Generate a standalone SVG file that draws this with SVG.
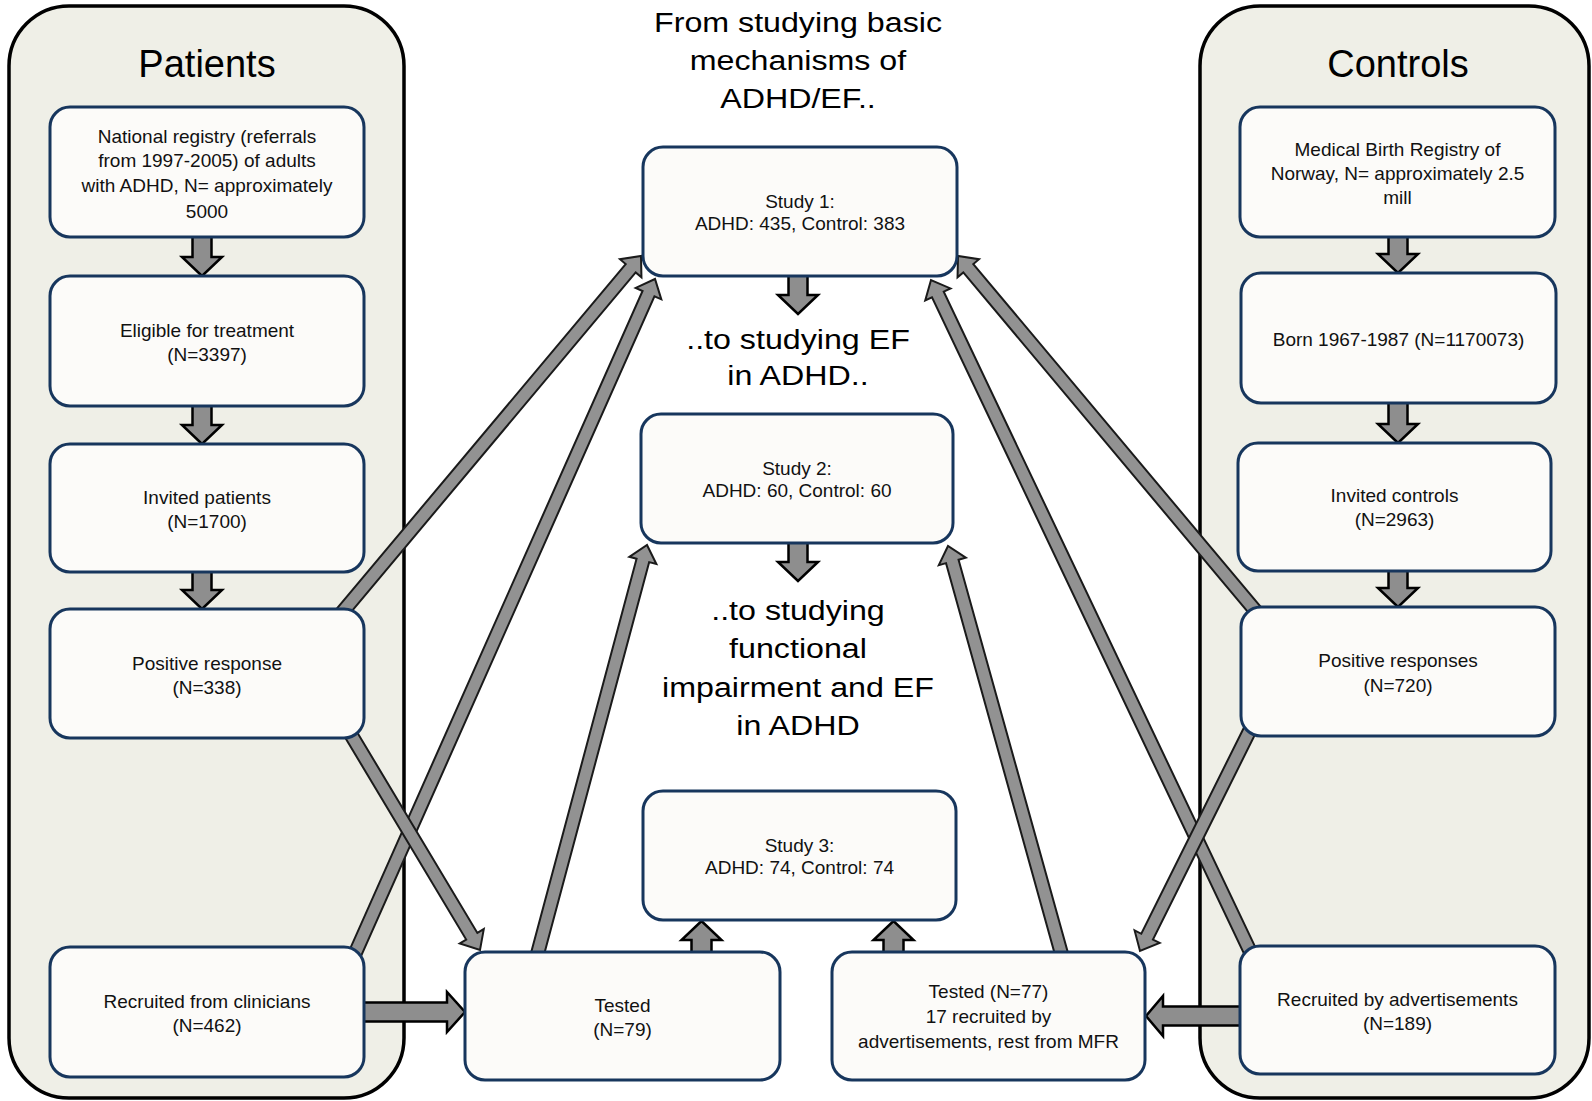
<svg xmlns="http://www.w3.org/2000/svg" width="1592" height="1101" viewBox="0 0 1592 1101">
  <style>
    .panel { fill: #efefe7; stroke: #000; stroke-width: 3.5; }
    .node { fill: #fcfbf9; stroke: #17365d; stroke-width: 3; }
    .t { font-family: "Liberation Sans", Arial, sans-serif; font-size: 19px; fill: #111; text-anchor: middle; }
    .head { font-family: "Liberation Sans", Arial, sans-serif; font-size: 38px; fill: #000; text-anchor: middle; }
    .big { font-family: "Liberation Sans", Arial, sans-serif; font-size: 28px; fill: #000; text-anchor: middle; }
    .blk { fill: #8e8e8e; stroke: #000; stroke-width: 2.5; stroke-linejoin: miter; }
    .dia { fill: #929292; stroke: #1a1a1a; stroke-width: 2; stroke-linejoin: miter; }
  </style>
  <rect width="1592" height="1101" fill="#ffffff"/>

  <g id="panel-patients">
    <rect class="panel" x="9" y="6" width="395" height="1092" rx="60" ry="60"/>
    <text class="head" x="207" y="77">Patients</text>
  </g>
  <g id="panel-controls">
    <rect class="panel" x="1200" y="6" width="389" height="1092" rx="60" ry="60"/>
    <text class="head" x="1398" y="77">Controls</text>
  </g>

  <g id="captions">
    <g transform="translate(798,0) scale(1.15,1)">
      <text class="big" x="0" y="32">From studying basic</text>
      <text class="big" x="0" y="70">mechanisms of</text>
      <text class="big" x="0" y="108">ADHD/EF..</text>
      <text class="big" x="0" y="349">..to studying EF</text>
      <text class="big" x="0" y="385">in ADHD..</text>
      <text class="big" x="0" y="620">..to studying</text>
      <text class="big" x="0" y="658">functional</text>
      <text class="big" x="0" y="697">impairment and EF</text>
      <text class="big" x="0" y="735">in ADHD</text>
    </g>
  </g>

  <g id="connectors">
    <!-- vertical block arrows, patients -->
    <path class="blk" d="M192.5,235 H211.5 V257 H222 L202,276 L182,257 H192.5 Z"/>
    <path class="blk" d="M192.5,404 H211.5 V425 H222 L202,444 L182,425 H192.5 Z"/>
    <path class="blk" d="M192.5,570 H211.5 V590 H222 L202,609 L182,590 H192.5 Z"/>
    <!-- vertical block arrows, controls -->
    <path class="blk" d="M1388.5,235 H1407.5 V254 H1418 L1398,273 L1378,254 H1388.5 Z"/>
    <path class="blk" d="M1388.5,401 H1407.5 V424 H1418 L1398,443 L1378,424 H1388.5 Z"/>
    <path class="blk" d="M1388.5,569 H1407.5 V588 H1418 L1398,607 L1378,588 H1388.5 Z"/>
    <!-- middle down arrows -->
    <path class="blk" d="M788.5,274 H807.5 V295 H818 L798,314 L778,295 H788.5 Z"/>
    <path class="blk" d="M788.5,541 H807.5 V562 H818 L798,581 L778,562 H788.5 Z"/>
    <!-- up arrows into Study 3 -->
    <path class="blk" d="M691.5,954 V940 H681.5 L701.5,921 L721.5,940 H711.5 V954 Z"/>
    <path class="blk" d="M883.5,954 V940 H873.5 L893.5,921 L913.5,940 H903.5 V954 Z"/>
    <!-- horizontal arrows -->
    <path class="blk" d="M362,1002.5 H447 V992 L465,1012 L447,1032 V1021.5 H362 Z"/>
    <path class="blk" d="M1242,1006.5 H1163 V996 L1146,1016 L1163,1036 V1025.5 H1242 Z"/>

    <!-- diagonal arrows -->
    <path class="dia" d="M344.9,619.3 L635.7,272.4 L641.45,277.26 L641,256 L619.99,259.26 L625.7,264.1 L334.9,610.9 Z"/>
    <path class="dia" d="M360.69,956.95 L654.44,296.26 L661.29,299.31 L655,279 L635.71,287.93 L642.56,290.98 L348.81,951.67 Z"/>
    <path class="dia" d="M343.31,734.48 L466.2,939.61 L459.77,943.46 L480,950 L483.79,929.08 L477.36,932.93 L354.47,727.8 Z"/>
    <path class="dia" d="M542.21,961.41 L649.14,562.14 L656.38,564.08 L647,545 L629.34,556.84 L636.58,558.78 L529.65,958.05 Z"/>
    <path class="dia" d="M1254.1,619.3 L963.3,272.4 L957.55,277.26 L958,256 L979.01,259.26 L973.3,264.1 L1264.1,610.9 Z"/>
    <path class="dia" d="M1257.3,951.44 L943.74,291.66 L950.51,288.44 L931,280 L925.23,300.46 L932,297.24 L1245.56,957.02 Z"/>
    <path class="dia" d="M1247.74,719.94 L1141.31,933.78 L1134.6,930.44 L1140,951 L1159.66,942.92 L1152.95,939.58 L1259.38,725.74 Z"/>
    <path class="dia" d="M1069.4,957.97 L958.55,559.67 L965.78,557.66 L948,546 L938.8,565.16 L946.03,563.15 L1056.88,961.45 Z"/>
  </g>

  <g id="node-national-registry">
    <rect class="node" x="50" y="107" width="314" height="130" rx="20" ry="20"/>
    <text class="t" x="207" y="143">National registry (referrals</text>
    <text class="t" x="207" y="167">from 1997-2005) of adults</text>
    <text class="t" x="207" y="192">with ADHD, N= approximately</text>
    <text class="t" x="207" y="218">5000</text>
  </g>
  <g id="node-eligible">
    <rect class="node" x="50" y="276" width="314" height="130" rx="20" ry="20"/>
    <text class="t" x="207" y="337">Eligible for treatment</text>
    <text class="t" x="207" y="361">(N=3397)</text>
  </g>
  <g id="node-invited-patients">
    <rect class="node" x="50" y="444" width="314" height="128" rx="20" ry="20"/>
    <text class="t" x="207" y="504">Invited patients</text>
    <text class="t" x="207" y="528">(N=1700)</text>
  </g>
  <g id="node-positive-response">
    <rect class="node" x="50" y="609" width="314" height="129" rx="20" ry="20"/>
    <text class="t" x="207" y="670">Positive response</text>
    <text class="t" x="207" y="694">(N=338)</text>
  </g>
  <g id="node-recruited-clinicians">
    <rect class="node" x="50" y="947" width="314" height="130" rx="20" ry="20"/>
    <text class="t" x="207" y="1008">Recruited from clinicians</text>
    <text class="t" x="207" y="1032">(N=462)</text>
  </g>

  <g id="node-study1">
    <rect class="node" x="643" y="147" width="314" height="129" rx="20" ry="20"/>
    <text class="t" x="800" y="208">Study 1:</text>
    <text class="t" x="800" y="230">ADHD: 435, Control: 383</text>
  </g>
  <g id="node-study2">
    <rect class="node" x="641" y="414" width="312" height="129" rx="20" ry="20"/>
    <text class="t" x="797" y="475">Study 2:</text>
    <text class="t" x="797" y="497">ADHD: 60, Control: 60</text>
  </g>
  <g id="node-study3">
    <rect class="node" x="643" y="791" width="313" height="129" rx="20" ry="20"/>
    <text class="t" x="799.5" y="852">Study 3:</text>
    <text class="t" x="799.5" y="874">ADHD: 74, Control: 74</text>
  </g>
  <g id="node-tested-patients">
    <rect class="node" x="465" y="952" width="315" height="128" rx="20" ry="20"/>
    <text class="t" x="622.5" y="1012">Tested</text>
    <text class="t" x="622.5" y="1036">(N=79)</text>
  </g>
  <g id="node-tested-controls">
    <rect class="node" x="832" y="952" width="313" height="128" rx="20" ry="20"/>
    <text class="t" x="988.5" y="998">Tested (N=77)</text>
    <text class="t" x="988.5" y="1023">17 recruited by</text>
    <text class="t" x="988.5" y="1048">advertisements, rest from MFR</text>
  </g>

  <g id="node-birth-registry">
    <rect class="node" x="1240" y="107" width="315" height="130" rx="20" ry="20"/>
    <text class="t" x="1397.5" y="156">Medical Birth Registry of</text>
    <text class="t" x="1397.5" y="180">Norway, N= approximately 2.5</text>
    <text class="t" x="1397.5" y="204">mill</text>
  </g>
  <g id="node-born">
    <rect class="node" x="1241" y="273" width="315" height="130" rx="20" ry="20"/>
    <text class="t" x="1398.5" y="346">Born 1967-1987 (N=1170073)</text>
  </g>
  <g id="node-invited-controls">
    <rect class="node" x="1238" y="443" width="313" height="128" rx="20" ry="20"/>
    <text class="t" x="1394.5" y="502">Invited controls</text>
    <text class="t" x="1394.5" y="526">(N=2963)</text>
  </g>
  <g id="node-positive-responses">
    <rect class="node" x="1241" y="607" width="314" height="129" rx="20" ry="20"/>
    <text class="t" x="1398" y="667">Positive responses</text>
    <text class="t" x="1398" y="692">(N=720)</text>
  </g>
  <g id="node-recruited-ads">
    <rect class="node" x="1240" y="946" width="315" height="128" rx="20" ry="20"/>
    <text class="t" x="1397.5" y="1006">Recruited by advertisements</text>
    <text class="t" x="1397.5" y="1030">(N=189)</text>
  </g>
</svg>
